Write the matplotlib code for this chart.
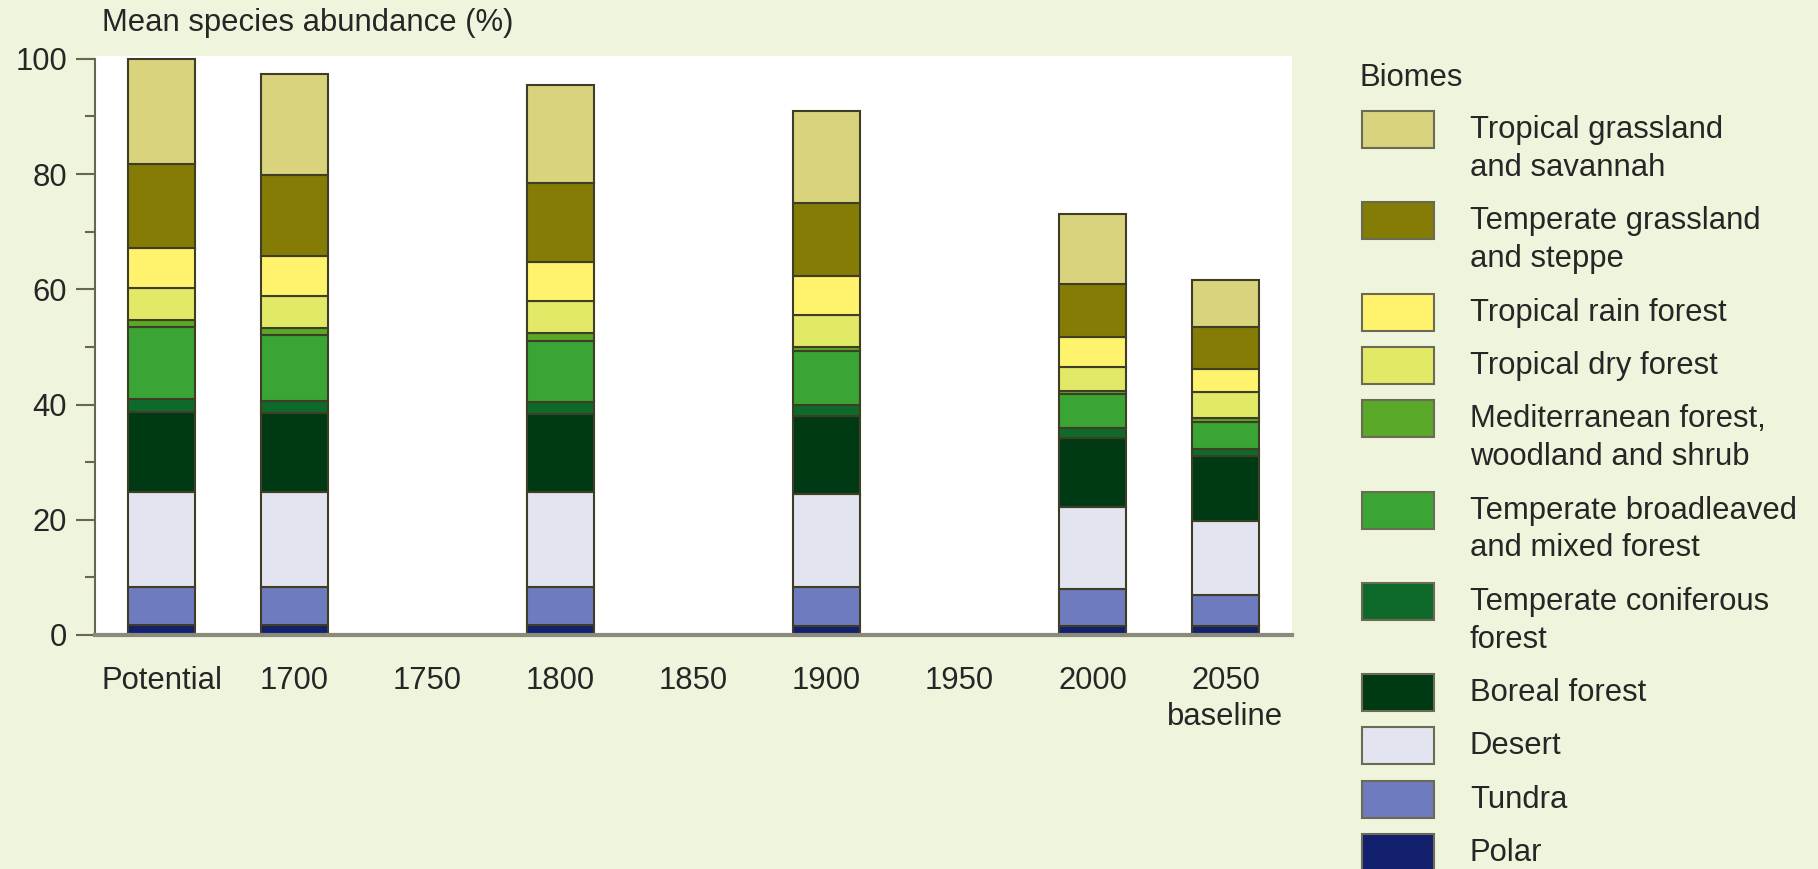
import numpy as np
import matplotlib.pyplot as plt
from matplotlib.patches import Rectangle

plt.rcParams['font.family'] = ['Liberation Sans', 'DejaVu Sans']

# x categories (empty decades have no bar)
categories = ['Potential', '1700', '1750', '1800', '1850', '1900', '1950', '2000', '2050\nbaseline']
bar_cats = ['Potential', '1700', '1800', '1900', '2000', '2050\nbaseline']

# mean species abundance (%) per biome, stacked bottom -> top
polar = [1.7, 1.7, 1.7, 1.6, 1.6, 1.6]
tundra = [6.7, 6.7, 6.7, 6.8, 6.4, 5.3]
desert = [16.5, 16.5, 16.4, 16.1, 14.2, 12.9]
boreal = [13.8, 13.6, 13.5, 13.5, 12.0, 11.3]
temp_conif = [2.2, 2.2, 2.2, 2.0, 1.7, 1.2]
temp_broad = [12.5, 11.4, 10.5, 9.3, 5.9, 4.7]
mediterranean = [1.2, 1.2, 1.4, 0.7, 0.6, 0.6]
trop_dry = [5.7, 5.6, 5.6, 5.6, 4.2, 4.5]
trop_rain = [6.9, 6.8, 6.8, 6.8, 5.1, 4.1]
temp_grass = [14.6, 14.2, 13.7, 12.5, 9.2, 7.2]
trop_grass = [18.2, 17.5, 17.0, 16.1, 12.1, 8.3]

stack = [polar, tundra, desert, boreal, temp_conif, temp_broad,
         mediterranean, trop_dry, trop_rain, temp_grass, trop_grass]
colors = ['#13206e', '#6e7cbf', '#e2e4f0', '#003a14', '#0e6a2a', '#3aa535',
          '#5aa828', '#e2e966', '#fff36e', '#857c06', '#d8d37c']

legend_labels = ['Tropical grassland\nand savannah', 'Temperate grassland\nand steppe',
                 'Tropical rain forest', 'Tropical dry forest',
                 'Mediterranean forest,\nwoodland and shrub',
                 'Temperate broadleaved\nand mixed forest',
                 'Temperate coniferous\nforest', 'Boreal forest', 'Desert', 'Tundra', 'Polar']

FS = 22.3
TXT = '#262626'
W, H = 1818, 869
fig = plt.figure(figsize=(W / 100, H / 100), dpi=100)
fig.patch.set_facecolor('#eef5dc')
ax = fig.add_axes([95 / W, 1 - 635 / H, (1292 - 95) / W, (635 - 56) / H])
ax.set_facecolor('white')

x = np.array([categories.index(c) for c in bar_cats])
bottom = np.zeros(len(x))
for vals, col in zip(stack, colors):
    vals = np.array(vals)
    ax.bar(x, vals, bottom=bottom, width=0.5, color=col,
           edgecolor='#3f3d26', linewidth=1.5)
    bottom += vals

ax.set_xlim(-0.5, 8.5)
ax.set_ylim(0, 100.5)
ax.set_xticks(range(len(categories)))
ax.set_xticklabels(categories, fontsize=FS, color=TXT, linespacing=1.3)
ax.tick_params(axis='x', length=0, pad=22)
ax.set_yticks(range(0, 101, 20))
ax.set_yticks(range(10, 100, 20), minor=True)
ax.tick_params(axis='y', which='major', length=14, width=1.5, color='#666655',
               labelsize=FS, labelcolor=TXT, pad=6)
ax.tick_params(axis='y', which='minor', length=7, width=1.5, color='#666655')
for s in ['top', 'right']:
    ax.spines[s].set_visible(False)
ax.spines['left'].set_color('#666655')
ax.spines['left'].set_linewidth(1.5)
ax.spines['left'].set_bounds(0, 100)
ax.spines['bottom'].set_color('#8a8a7a')
ax.spines['bottom'].set_linewidth(3)

fig.text(102 / W, 1 - 23 / H, 'Mean species abundance (%)', fontsize=FS,
         color=TXT, va='center', ha='left')

# legend drawn by hand: swatch lines up with the first text line
fig.text(1360 / W, 1 - 78 / H, 'Biomes', fontsize=FS, color=TXT, va='center')
yc = 130
for lab, col in zip(legend_labels, colors[::-1]):
    fig.patches.append(Rectangle((1362 / W, 1 - (yc + 18) / H), 72 / W, 37 / H,
                                 transform=fig.transFigure, facecolor=col,
                                 edgecolor='#6a6a55', linewidth=1.5))
    lines = lab.split('\n')
    for i, ln in enumerate(lines):
        fig.text(1470 / W, 1 - (yc + i * 38) / H, ln, fontsize=FS,
                 color=TXT, va='center', ha='left')
    yc += 53.3 + 38 * (len(lines) - 1)

fig.savefig('out.png', dpi=100, facecolor=fig.get_facecolor())
